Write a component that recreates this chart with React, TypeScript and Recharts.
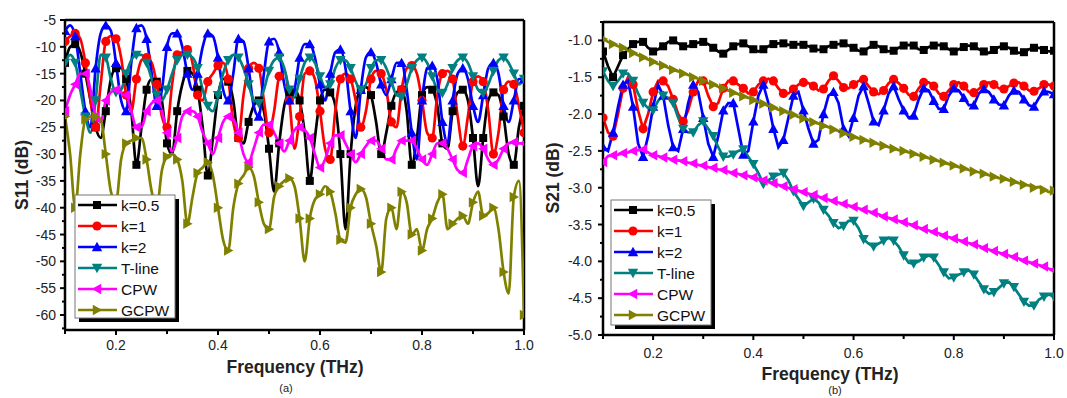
import React from "react";
import { LineChart, Line, XAxis, YAxis, ReferenceLine } from "recharts";

const freq = [
  0.1, 0.11, 0.12, 0.13, 0.14, 0.15, 0.16, 0.17, 0.18, 0.19,
  0.2, 0.21, 0.22, 0.23, 0.24, 0.25, 0.26, 0.27, 0.28, 0.29,
  0.3, 0.31, 0.32, 0.33, 0.34, 0.35, 0.36, 0.37, 0.38, 0.39,
  0.4, 0.41, 0.42, 0.43, 0.44, 0.45, 0.46, 0.47, 0.48, 0.49,
  0.5, 0.51, 0.52, 0.53, 0.54, 0.55, 0.56, 0.57, 0.58, 0.59,
  0.6, 0.61, 0.62, 0.63, 0.64, 0.65, 0.66, 0.67, 0.68, 0.69,
  0.7, 0.71, 0.72, 0.73, 0.74, 0.75, 0.76, 0.77, 0.78, 0.79,
  0.8, 0.81, 0.82, 0.83, 0.84, 0.85, 0.86, 0.87, 0.88, 0.89,
  0.9, 0.91, 0.92, 0.93, 0.94, 0.95, 0.96, 0.97, 0.98, 0.99,
  1.0,
];

// S11 (dB), panel (a)
const s11K05 = [
  -13, -10, -9.5, -11, -15, -20, -25, -27, -22, -16,
  -14, -14, -16, -22, -32, -25, -18, -16, -16.5, -20,
  -28, -30, -22, -17, -14.5, -15, -18, -25, -34, -27,
  -19, -16, -16.5, -20, -27, -28, -24, -21, -20, -22,
  -29, -37, -28, -21, -18.5, -18, -20, -26, -35, -27,
  -20, -18, -18.5, -21, -30, -44, -30, -21, -18, -17.5,
  -19, -24, -30, -26, -21, -18.5, -18, -22, -32, -27,
  -19, -17.5, -18, -21, -28, -29, -22, -18.5, -18, -20,
  -27, -36, -27, -20, -18.5, -19, -23, -30, -32, -25,
  -21,
];
const s11K1 = [
  -9, -8, -7.5, -8.5, -13, -20, -25, -17, -9, -8,
  -8.5, -12, -19, -22, -16, -12.5, -12, -13, -17, -23,
  -25, -17, -11.5, -11, -10.5, -13, -19, -20, -16.5, -15,
  -13.5, -13, -16, -24, -27, -19, -14, -13, -14, -20,
  -26, -22, -15.5, -14.5, -20, -29, -23, -15, -14.5, -16,
  -22, -29, -31, -22, -16, -15, -16, -20, -25, -22,
  -16, -14.5, -15, -18, -24, -25, -18, -14, -13.5, -15,
  -20, -26, -27, -19, -15, -14.5, -16, -23, -28.5, -23,
  -16.5, -15.5, -16.5, -22, -30, -26, -18, -16.5, -17, -21,
  -26,
];
const s11K2 = [
  -7, -6, -8, -15, -22, -25, -14, -7.5, -6, -7,
  -13, -20, -22, -13, -6.5, -6, -8.5, -15, -21, -18,
  -10, -7.5, -7.5, -10, -15, -18, -15, -10, -7.5, -8,
  -12, -18, -20, -15, -8.5, -9, -14, -21, -23, -15,
  -9, -8.5, -11, -17, -20, -18, -12, -9.5, -9.5, -12,
  -17, -20, -15, -11, -10.5, -14, -22, -27, -18, -12,
  -11, -13, -17, -19, -16, -13, -13, -18, -26, -31,
  -20, -14, -13.5, -16, -24, -28, -20, -15, -14, -16,
  -21, -24, -19, -14, -13, -15, -21, -24, -20, -16,
  -16,
];
const s11TLine = [
  -13, -11.5, -13, -18, -23, -26, -20, -11.5, -12, -16,
  -18.5, -18, -15, -12.5, -11.5, -11.5, -13, -16, -19, -20,
  -18, -15, -12.5, -11.5, -11.5, -12, -14, -18, -21, -22,
  -19, -15, -12.5, -11.5, -12, -14, -17, -20, -20.5, -18,
  -14.5, -12.5, -12, -14, -18, -19.5, -16, -13, -12, -13,
  -15.5, -17.5, -17, -14, -12.5, -12.5, -14, -16.5, -18, -17,
  -14, -12.5, -12.5, -14, -16.5, -19, -19.3, -17, -14, -12.5,
  -12, -13, -15.5, -18, -18.6, -17, -14, -12.5, -12, -13,
  -15.5, -18, -18.6, -17, -14.5, -12.5, -12, -13, -15, -17,
  -16,
];
const s11Cpw = [
  -22, -19, -17, -15, -15, -18, -23, -24, -20, -18.5,
  -18, -18.5, -19, -22, -25, -25, -22, -20.5, -20, -22,
  -26, -29.5, -27, -23, -22, -22, -23, -26, -28, -30,
  -27, -24, -23, -23.5, -26, -30, -31.5, -29, -26, -24.5,
  -24.5, -26, -28, -29.5, -27.5, -25.5, -25, -25.5, -27, -30,
  -32.5, -31, -28, -26.5, -26.5, -28, -30, -31.5, -30, -28.5,
  -27.5, -27.5, -29, -31, -31, -29, -27.5, -27.5, -27.5, -29,
  -31, -32, -30, -28, -28, -29, -31, -33, -33.5, -31,
  -28.5, -28, -29, -31, -32, -31, -29, -28, -27.8, -28,
  -28,
];
const s11Gcpw = [
  -23, -30, -40, -30, -23.5, -23, -23, -23.5, -30, -37,
  -39, -31, -28, -27.5, -27, -27, -31, -37, -40, -33,
  -30.5, -30, -31, -35, -43, -38, -33.5, -32.5, -31.5, -34,
  -40, -46, -48, -40, -35.5, -34, -32.5, -34, -39, -43,
  -44, -38, -36, -35, -34.5, -36, -42, -50, -42, -38.5,
  -37.5, -36, -37, -41, -46, -46.5, -40, -37.5, -36.5, -38,
  -43, -47, -52, -42, -40, -44, -37, -39, -45, -44,
  -48, -44, -42, -39, -37.5, -44, -43, -42, -41.5, -43,
  -39, -37, -41.5, -41, -40, -44, -52, -56, -38, -35,
  -60,
];

// S21 (dB), panel (b)
const s21K05 = [
  -1.15, -1.35, -1.5, -1.35, -1.2, -1.12, -1.05, -1.02, -1.02, -1.1,
  -1.15, -1.12, -1.08, -1.02, -1.0, -1.04, -1.08, -1.08, -1.05, -1.03,
  -1.02, -1.05, -1.1, -1.15, -1.18, -1.13, -1.08, -1.05, -1.04, -1.08,
  -1.12, -1.15, -1.12, -1.08, -1.05, -1.04, -1.04, -1.06, -1.06, -1.05,
  -1.06, -1.08, -1.11, -1.13, -1.12, -1.08, -1.06, -1.05, -1.04, -1.07,
  -1.1, -1.14, -1.15, -1.1, -1.06, -1.08, -1.12, -1.15, -1.14, -1.1,
  -1.07, -1.06, -1.07, -1.12, -1.13, -1.09, -1.07, -1.06, -1.08, -1.12,
  -1.15, -1.12, -1.09, -1.07, -1.08, -1.12, -1.15, -1.17, -1.13, -1.09,
  -1.08, -1.1, -1.14, -1.17, -1.16, -1.12, -1.1, -1.1, -1.13, -1.15,
  -1.14,
];
const s21K1 = [
  -2.05, -2.25, -2.3, -2.0, -1.65, -1.5, -1.6, -1.95, -2.2, -2.0,
  -1.7, -1.55, -1.55, -1.62, -1.8, -2.0, -2.1, -1.95, -1.7, -1.55,
  -1.55, -1.75, -1.9, -1.85, -1.65, -1.55, -1.55, -1.6, -1.65, -1.72,
  -1.7, -1.6, -1.55, -1.52, -1.55, -1.65, -1.72, -1.72, -1.66, -1.6,
  -1.57, -1.58, -1.62, -1.68, -1.66, -1.55, -1.48, -1.55, -1.64, -1.65,
  -1.6, -1.55, -1.53, -1.62, -1.7, -1.73, -1.68, -1.58, -1.53, -1.58,
  -1.65, -1.74, -1.76, -1.65, -1.57, -1.57, -1.62, -1.72, -1.76, -1.68,
  -1.6, -1.57, -1.62, -1.7, -1.71, -1.66, -1.6, -1.57, -1.6, -1.65,
  -1.66, -1.62, -1.58, -1.57, -1.62, -1.68, -1.69, -1.65, -1.6, -1.6,
  -1.62,
];
const s21K2 = [
  -2.45, -2.5, -2.25, -1.9, -1.6, -1.55, -1.9, -2.4, -2.58, -2.3,
  -1.9, -1.6, -1.75, -2.15, -2.45, -2.5, -2.2, -1.85, -1.6, -1.7,
  -2.05, -2.4, -2.58, -2.3, -1.95, -1.85, -1.85, -2.2, -2.55, -2.5,
  -2.1, -1.75, -1.6, -1.85, -2.2, -2.45, -2.35, -2.05, -1.75, -1.7,
  -1.95, -2.2, -2.4, -2.35, -2.0, -1.75, -1.7, -1.85, -2.2, -2.3,
  -2.05, -1.75, -1.62, -1.85, -2.1, -2.15, -1.95, -1.72, -1.62, -1.8,
  -1.95, -2.05, -2.02, -1.8, -1.65, -1.68, -1.82, -1.93, -1.93, -1.75,
  -1.65, -1.68, -1.78, -1.88, -1.88, -1.72, -1.66, -1.7, -1.8, -1.87,
  -1.88, -1.75, -1.68, -1.7, -1.8, -1.88, -1.9, -1.78, -1.69, -1.7,
  -1.73,
];
const s21TLine = [
  -1.42, -1.55, -1.62, -1.55, -1.45, -1.45, -1.55, -1.72, -1.85, -1.92,
  -1.95, -1.82, -1.75, -1.78, -1.85, -2.05, -2.2, -2.25, -2.25, -2.15,
  -2.1, -2.2, -2.3, -2.45, -2.58, -2.58, -2.55, -2.5, -2.48, -2.58,
  -2.68, -2.8, -2.95, -2.9, -2.85, -2.82, -2.8, -2.9, -3.05, -3.15,
  -3.25, -3.2, -3.15, -3.2, -3.3, -3.38, -3.48, -3.55, -3.52, -3.45,
  -3.45, -3.55, -3.7, -3.76, -3.8, -3.76, -3.72, -3.68, -3.72, -3.8,
  -3.92, -4.02, -4.03, -4.0, -3.95, -3.92, -3.95, -4.05, -4.15, -4.23,
  -4.22, -4.18, -4.15, -4.12, -4.18, -4.28, -4.38, -4.44, -4.42, -4.36,
  -4.3, -4.28, -4.35, -4.45, -4.55, -4.6, -4.6, -4.52, -4.48, -4.45,
  -4.48,
];
const s21Cpw = [
  -2.65, -2.57, -2.56, -2.55, -2.53, -2.52, -2.5, -2.49, -2.48, -2.52,
  -2.56, -2.57, -2.59, -2.6, -2.62, -2.63, -2.64, -2.66, -2.67, -2.69,
  -2.7, -2.72, -2.73, -2.75, -2.76, -2.78, -2.8, -2.81, -2.83, -2.84,
  -2.86, -2.88, -2.9, -2.92, -2.94, -2.96, -2.98, -3.0, -3.02, -3.04,
  -3.06, -3.08, -3.1, -3.12, -3.14, -3.16, -3.18, -3.2, -3.22, -3.24,
  -3.26, -3.28, -3.3, -3.32, -3.34, -3.36, -3.39, -3.41, -3.43, -3.45,
  -3.47, -3.49, -3.51, -3.54, -3.56, -3.58, -3.6, -3.62, -3.65, -3.67,
  -3.69, -3.71, -3.73, -3.75, -3.77, -3.79, -3.82, -3.84, -3.86, -3.88,
  -3.9, -3.92, -3.94, -3.96, -3.99, -4.01, -4.03, -4.05, -4.07, -4.1,
  -4.12,
];
const s21Gcpw = [
  -0.98, -1.02, -1.05, -1.08, -1.1, -1.14, -1.17, -1.2, -1.23, -1.26,
  -1.29, -1.32, -1.34, -1.37, -1.4, -1.42, -1.45, -1.47, -1.5, -1.52,
  -1.55, -1.58, -1.6, -1.63, -1.65, -1.68, -1.71, -1.73, -1.76, -1.78,
  -1.81, -1.84, -1.86, -1.89, -1.91, -1.94, -1.96, -1.99, -2.01, -2.04,
  -2.06, -2.08, -2.11, -2.13, -2.16, -2.18, -2.21, -2.23, -2.26, -2.28,
  -2.31, -2.33, -2.35, -2.37, -2.39, -2.41, -2.43, -2.45, -2.47, -2.49,
  -2.5, -2.52, -2.54, -2.56, -2.58, -2.6, -2.62, -2.64, -2.66, -2.68,
  -2.7, -2.72, -2.74, -2.76, -2.78, -2.79, -2.81, -2.83, -2.85, -2.87,
  -2.88, -2.9, -2.92, -2.94, -2.96, -2.97, -3.0, -2.99, -3.03, -3.06,
  -3.04,
];

const seriesNames = ["k=0.5", "k=1", "k=2", "T-line", "CPW", "GCPW"];
const seriesKeys = ["k05", "k1", "k2", "tline", "cpw", "gcpw"];
const seriesColors = ["#000000", "#ff0000", "#0000ff", "#008080", "#ff00ff", "#808000"];
const seriesShapes = ["square", "circle", "up", "down", "left", "right"];

const s11Series = [s11K05, s11K1, s11K2, s11TLine, s11Cpw, s11Gcpw];
const s21Series = [s21K05, s21K1, s21K2, s21TLine, s21Cpw, s21Gcpw];

const xTicks = [0.1, 0.2, 0.3, 0.4, 0.5, 0.6, 0.7, 0.8, 0.9, 1.0];
const s11Ticks = [
  -62.5, -60, -57.5, -55, -52.5, -50, -47.5, -45, -42.5, -40, -37.5, -35, -32.5,
  -30, -27.5, -25, -22.5, -20, -17.5, -15, -12.5, -10, -7.5, -5,
];
const s21Ticks = [
  -5, -4.75, -4.5, -4.25, -4, -3.75, -3.5, -3.25, -3, -2.75, -2.5, -2.25, -2,
  -1.75, -1.5, -1.25, -1, -0.75,
];

const FONT = "'Liberation Sans', Arial, sans-serif";

const buildRows = (series: number[][]) =>
  freq.map((f, i) => {
    const row: Record<string, number> = { f };
    seriesKeys.forEach((k, j) => {
      row[k] = series[j][i];
    });
    return row;
  });

const s11Rows = buildRows(s11Series);
const s21Rows = buildRows(s21Series);

function markerShape(shape: string, cx: number, cy: number, color: string) {
  const s = 5.2;
  switch (shape) {
    case "square":
      return <rect x={cx - 4} y={cy - 4} width={8} height={8} fill={color} />;
    case "circle":
      return <circle cx={cx} cy={cy} r={4.6} fill={color} />;
    case "up":
      return <polygon points={`${cx},${cy - s} ${cx + s},${cy + s * 0.8} ${cx - s},${cy + s * 0.8}`} fill={color} />;
    case "down":
      return <polygon points={`${cx},${cy + s} ${cx + s},${cy - s * 0.8} ${cx - s},${cy - s * 0.8}`} fill={color} />;
    case "left":
      return <polygon points={`${cx - s},${cy} ${cx + s * 0.8},${cy - s} ${cx + s * 0.8},${cy + s}`} fill={color} />;
    default:
      return <polygon points={`${cx + s},${cy} ${cx - s * 0.8},${cy - s} ${cx - s * 0.8},${cy + s}`} fill={color} />;
  }
}

const dotFor = (shape: string, color: string) => (props: any) => {
  const { cx, cy, index } = props;
  if (cx == null || cy == null || index % 2 !== 0) return <g key={`d${index}`} />;
  return <g key={`d${index}`}>{markerShape(shape, cx, cy, color)}</g>;
};

const makeYTick = (isMajor: (v: number) => boolean, fmt: (v: number) => string, gap: number) =>
  (props: any) => {
    const { x, y, payload } = props;
    const v = payload.value as number;
    const major = isMajor(v);
    return (
      <g>
        <line x1={x} x2={x - (major ? 5 : 3)} y1={y} y2={y} stroke="#000" strokeWidth={2} />
        {major && (
          <text x={x - 5 - gap} y={y} dy="0.36em" textAnchor="end" fontSize={14} fill="#222" fontFamily={FONT}>
            {fmt(v)}
          </text>
        )}
      </g>
    );
  };

const makeXTick = (gap: number) => (props: any) => {
  const { x, y, payload } = props;
  const v = payload.value as number;
  const major = Math.round(v * 10) % 2 === 0;
  return (
    <g>
      <line x1={x} x2={x} y1={y} y2={y + (major ? 5 : 4)} stroke="#000" strokeWidth={2} />
      {major && (
        <text x={x} y={y + gap} textAnchor="middle" fontSize={14} fill="#222" fontFamily={FONT}>
          {v.toFixed(1)}
        </text>
      )}
    </g>
  );
};

const s11YTick = makeYTick((v) => Math.abs(v % 5) < 1e-6, (v) => `${v}`, 4);
const s21YTick = makeYTick((v) => Math.abs(v * 2 - Math.round(v * 2)) < 1e-6, (v) => v.toFixed(1), 6);

function Panel({
  rows, left, width, margin, yWidth, domain, yTicks, yTick, xGap, smooth,
}: any) {
  return (
    <div style={{ position: "absolute", left, top: 0 }}>
      <LineChart width={width} height={398} data={rows} margin={margin}>
        <XAxis
          dataKey="f"
          type="number"
          domain={[0.1, 1.0]}
          ticks={xTicks}
          interval={0}
          allowDataOverflow
          height={30}
          tickSize={0}
          tickMargin={0}
          tickLine={false}
          axisLine={{ stroke: "#000", strokeWidth: 2.5 }}
          tick={makeXTick(xGap)}
        />
        <YAxis
          type="number"
          domain={domain}
          ticks={yTicks}
          interval={0}
          allowDataOverflow
          width={yWidth}
          tickSize={0}
          tickMargin={0}
          tickLine={false}
          axisLine={{ stroke: "#000", strokeWidth: 2.5 }}
          tick={yTick}
        />
        <ReferenceLine y={domain[1]} stroke="#000" strokeWidth={2.5} />
        <ReferenceLine x={1.0} stroke="#000" strokeWidth={2.5} />
        {seriesKeys.map((k, j) => (
          <Line
            key={k}
            dataKey={k}
            name={seriesNames[j]}
            type={smooth ? "monotone" : "linear"}
            stroke={seriesColors[j]}
            strokeWidth={2.7}
            dot={dotFor(seriesShapes[j], seriesColors[j])}
            activeDot={false}
            isAnimationActive={false}
          />
        ))}
      </LineChart>
    </div>
  );
}

function LegendBox({ x, y, w, h, step }: { x: number; y: number; w: number; h: number; step: number }) {
  return (
    <g>
      <rect x={x + 4} y={y + 4} width={w} height={h} fill="#000" />
      <rect x={x} y={y} width={w} height={h} fill="#fff" stroke="#777" strokeWidth={1} />
      {seriesNames.map((name, j) => {
        const cy = y + 10 + j * step;
        return (
          <g key={name}>
            <line x1={x + 3} x2={x + 42} y1={cy} y2={cy} stroke={seriesColors[j]} strokeWidth={2.7} />
            {markerShape(seriesShapes[j], x + 22, cy, seriesColors[j])}
            <text x={x + 46} y={cy} dy="0.36em" fontSize={15.5} fill="#111" fontFamily={FONT}>
              {name}
            </text>
          </g>
        );
      })}
    </g>
  );
}

export default function App() {
  return (
    <div style={{ position: "absolute", left: 0, top: 0, width: 1067, height: 398, background: "#fff", overflow: "hidden" }}>
      <Panel
        rows={s11Rows}
        left={0}
        width={540}
        margin={{ top: 20, right: 16, bottom: 38, left: 0 }}
        yWidth={65}
        domain={[-62.8, -5]}
        yTicks={s11Ticks}
        yTick={s11YTick}
        xGap={20}
        smooth
      />
      <Panel
        rows={s21Rows}
        left={540}
        width={527}
        margin={{ top: 22, right: 13, bottom: 33, left: 0 }}
        yWidth={63}
        domain={[-5, -0.75]}
        yTicks={s21Ticks}
        yTick={s21YTick}
        xGap={23}
        smooth={false}
      />
      <svg width={1067} height={398} style={{ position: "absolute", left: 0, top: 0, pointerEvents: "none" }}>
        <LegendBox x={75} y={195} w={100} h={123} step={21} />
        <LegendBox x={611} y={200} w={100} h={125} step={21} />
        <text x={22} y={175} transform="rotate(-90 22 175)" textAnchor="middle" dy="0.36em" fontSize={17.5} fontWeight="bold" fill="#222" fontFamily={FONT}>
          S11 (dB)
        </text>
        <text x={295} y={373} textAnchor="middle" fontSize={17.5} fontWeight="bold" fill="#222" fontFamily={FONT}>
          Frequency (THz)
        </text>
        <text x={286} y={392} textAnchor="middle" fontSize={11} fill="#222" fontFamily={FONT}>
          (a)
        </text>
        <text x={553} y={178} transform="rotate(-90 553 178)" textAnchor="middle" dy="0.36em" fontSize={17.5} fontWeight="bold" fill="#222" fontFamily={FONT}>
          S21 (dB)
        </text>
        <text x={830} y={380} textAnchor="middle" fontSize={17.5} fontWeight="bold" fill="#222" fontFamily={FONT}>
          Frequency (THz)
        </text>
        <text x={835} y={394} textAnchor="middle" fontSize={11} fill="#222" fontFamily={FONT}>
          (b)
        </text>
      </svg>
    </div>
  );
}
